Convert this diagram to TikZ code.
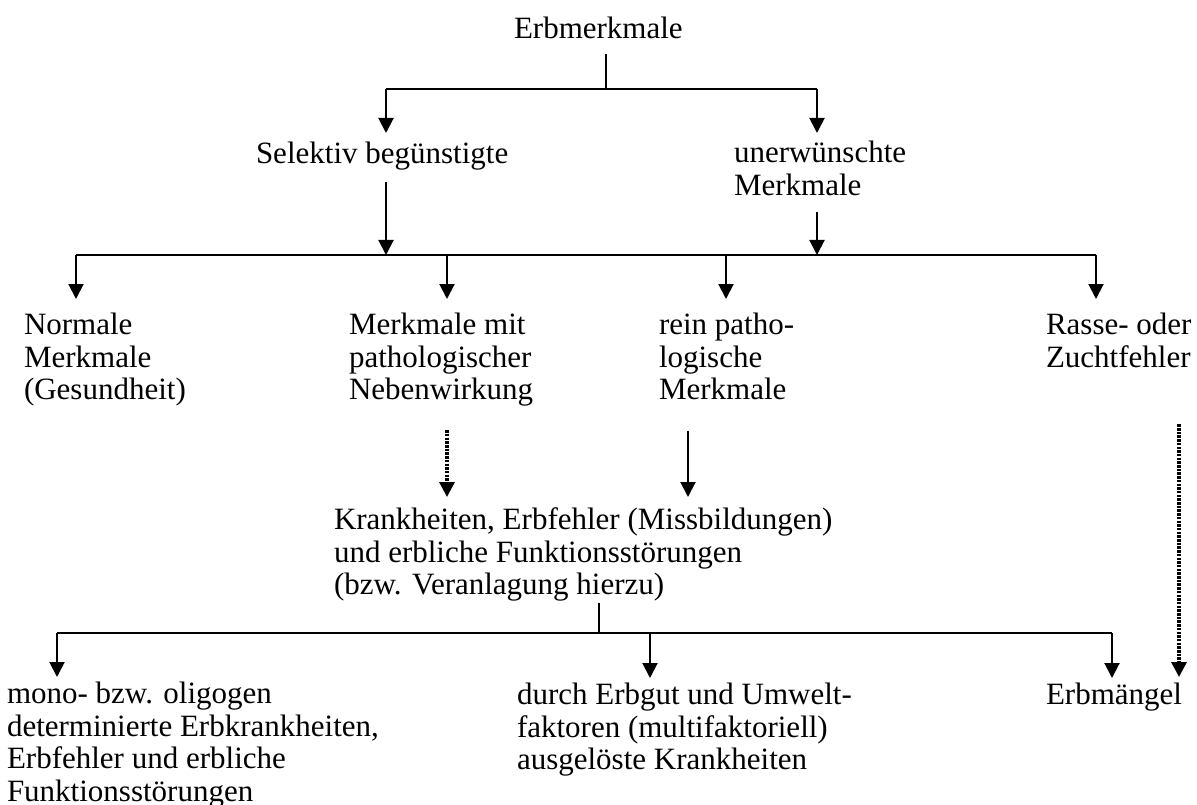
\documentclass[tikz,border=0pt]{standalone}
\usepackage{fontspec}
\setmainfont{Liberation Serif}
\usepackage{tikz}
\usetikzlibrary{arrows.meta}

\begin{document}
\begin{tikzpicture}[x=1pt,y=-1pt,line width=2pt,
        >={Triangle[length=15pt,width=15pt]},
        txt/.style={inner sep=0pt,anchor=north west,align=left,font=\fontsize{31}{32.5}\selectfont},
        dotline/.style={line width=3.2pt,dash pattern=on 2.5pt off 1.2pt}]
            \useasboundingbox (0,0) rectangle (1197,805);
            % Texte
            \node[txt] (erb) at (513,16) {Erbmerkmale};
            \node[txt] (sel) at (255,141) {Selektiv begünstigte};
            \node[txt] (unw) at (733,140) {unerwünschte\\Merkmale};
            \node[txt] (norm) at (23,312) {Normale\\Merkmale\\(Gesundheit)};
            \node[txt] (mmit) at (348,312) {Merkmale mit\\pathologischer\\Nebenwirkung};
            \node[txt] (rein) at (658,312) {rein patho-\\logische\\Merkmale};
            \node[txt] (rasse) at (1045,312) {Rasse- oder\\Zuchtfehler};
            \node[txt] (krank) at (333,507) {Krankheiten, Erbfehler (Missbildungen)\\und erbliche Funktionsstörungen\\(bzw. Veranlagung hierzu)};
            \node[txt] (mono) at (6,681) {mono- bzw. oligogen\\determinierte Erbkrankheiten,\\Erbfehler und erbliche\\Funktionsstörungen};
            \node[txt] (durch) at (516,682) {durch Erbgut und Umwelt-\\faktoren (multifaktoriell)\\ausgelöste Krankheiten};
            \node[txt] (mang) at (1045,682) {Erbmängel};
            % Verzweigungen
            \coordinate (j1) at (606,89);
            \coordinate (b1l) at (386,89);
            \coordinate (b1r) at (817,89);
            \coordinate (b2a) at (76,255);
            \coordinate (b2b) at (447,255);
            \coordinate (b2c) at (726,255);
            \coordinate (b2d) at (1096,255);
            \coordinate (b2s) at (386,255);
            \coordinate (b2u) at (817,255);
            \coordinate (kr) at (688,497);
            \coordinate (j3) at (599,633);
            \coordinate (b3a) at (57,633);
            \coordinate (b3b) at (650,633);
            \coordinate (b3c) at (1112,633);
            \coordinate (dm) at (1179,677);
            % Ebene 1
            \draw[shorten <=14pt] (erb.south -| j1) -- (j1);
            \draw (b1l) -- (b1r);
            \draw[->,shorten >=8pt] (b1l) -- (sel.north -| b1l);
            \draw[->,shorten >=7pt] (b1r) -- (unw.north -| b1r);
            % Ebene 2
            \draw[->,shorten <=11pt] (sel.south -| b2s) -- (b2s);
            \draw[->,shorten <=16pt] (unw.south -| b2u) -- (b2u);
            \draw (b2a) -- (b2d);
            \foreach \c/\n in {b2a/norm,b2b/mmit,b2c/rein,b2d/rasse}
                \draw[->,shorten >=13pt] (\c) -- (\n.north -| \c);
            % Ebene 3
            \draw[->,dotline,shorten <=23pt,shorten >=10pt] (mmit.south -| b2b) -- (krank.north -| b2b);
            \draw[->,shorten <=30pt,shorten >=10pt] (rein.south -| kr) -- (krank.north -| kr);
            \draw (krank.south -| j3) -- (j3);
            \draw (b3a) -- (b3c);
            \foreach \c/\n in {b3a/mono,b3b/durch,b3c/mang}
                \draw[->,shorten >=4pt] (\c) -- (\n.north -| \c);
            \draw[->,dotline,shorten <=56pt,shorten >=5pt] (rasse.south -| dm) -- (mang.north -| dm);
        \end{tikzpicture}
\end{document}
